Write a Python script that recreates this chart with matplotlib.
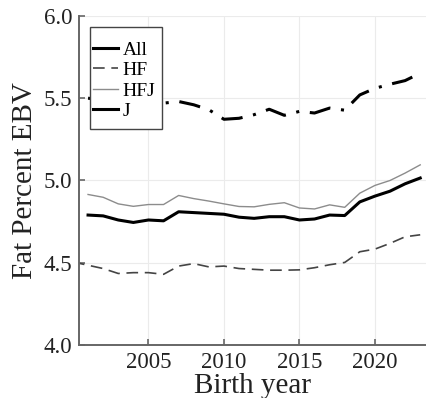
import matplotlib
matplotlib.use("Agg")
import matplotlib.pyplot as plt
from matplotlib.lines import Line2D
from matplotlib.patches import Rectangle
from matplotlib.ticker import FormatStrFormatter

# data
years = list(range(2001, 2024))
years_hf = list(range(2000, 2024))

all_vals = [4.79, 4.785, 4.76, 4.745, 4.76, 4.755, 4.81, 4.805, 4.80, 4.795,
            4.777, 4.77, 4.78, 4.78, 4.76, 4.766, 4.79, 4.787, 4.87, 4.905,
            4.935, 4.98, 5.015]
hf_vals = [4.505, 4.485, 4.465, 4.435, 4.44, 4.44, 4.43, 4.48, 4.495, 4.475,
           4.48, 4.465, 4.46, 4.455, 4.455, 4.457, 4.47, 4.488, 4.502, 4.567,
           4.583, 4.618, 4.658, 4.67]
hfj_vals = [4.915, 4.898, 4.858, 4.843, 4.854, 4.854, 4.909, 4.89, 4.875, 4.858,
            4.842, 4.84, 4.855, 4.865, 4.833, 4.827, 4.852, 4.837, 4.923, 4.97,
            5.0, 5.045, 5.095]
j_vals = [5.50, 5.49, 5.48, 5.47, 5.47, 5.47, 5.48, 5.46, 5.43, 5.372,
          5.378, 5.40, 5.433, 5.396, 5.42, 5.41, 5.44, 5.427, 5.52, 5.56,
          5.585, 5.607, 5.652]

plt.rcParams['font.family'] = ['Liberation Serif', 'DejaVu Serif']

fig = plt.figure(figsize=(4.27, 3.98), dpi=100)
ax = fig.add_axes([0.185, 0.133, 0.815, 0.827])

ax.plot(years, all_vals, color='black', lw=2.2, label='All')
ax.plot(years_hf, hf_vals, color='#444444', lw=1.2, ls=(0, (7, 4)), label='HF')
ax.plot(years, hfj_vals, color='#8c8c8c', lw=1.0, label='HFJ')
ax.plot(years, j_vals, color='black', lw=2.2, ls=(0, (7, 3.5, 1, 3.5)), label='J')

ax.set_xlim(2000.4, 2023.45)
ax.set_ylim(4.0, 6.0)
ax.set_xticks([2005, 2010, 2015, 2020])
ax.set_yticks([4.0, 4.5, 5.0, 5.5, 6.0])
ax.yaxis.set_major_formatter(FormatStrFormatter('%.1f'))

ax.grid(True, color='#ebebeb', lw=0.8)
ax.set_axisbelow(True)
for s in ['top', 'right']:
    ax.spines[s].set_visible(False)
for s in ['left', 'bottom']:
    ax.spines[s].set_color('#666666')
    ax.spines[s].set_linewidth(1.4)
ax.tick_params(direction='in', length=4, width=1.2, color='#666666',
               labelsize=16.5, labelcolor='#222222', pad=5)

ax.set_xlabel('Birth year', fontsize=21, color='#222222', labelpad=0)
ax.set_ylabel('Fat Percent EBV', fontsize=21, color='#222222', labelpad=4)

# legend: J shown solid as in the original
handles = [
    Line2D([], [], color='black', lw=2.2),
    Line2D([], [], color='#444444', lw=1.2, ls=(0, (7, 4))),
    Line2D([], [], color='#8c8c8c', lw=1.0),
    Line2D([], [], color='black', lw=2.2),
]
leg = ax.legend(handles, ['All', 'HF', 'HFJ', 'J'], loc='upper left',
                bbox_to_anchor=(0.039, 0.924), fontsize=14, frameon=False,
                handlelength=1.3, handletextpad=0.25, labelspacing=0.15,
                borderpad=0, borderaxespad=0)
box = Rectangle((0.0316, 0.6565), 0.207, 0.31, transform=ax.transAxes,
                fill=True, facecolor='white', edgecolor='#444444', lw=1.0,
                zorder=4)
ax.add_patch(box)
leg.set_zorder(5)

fig.savefig('out.png', dpi=100)
